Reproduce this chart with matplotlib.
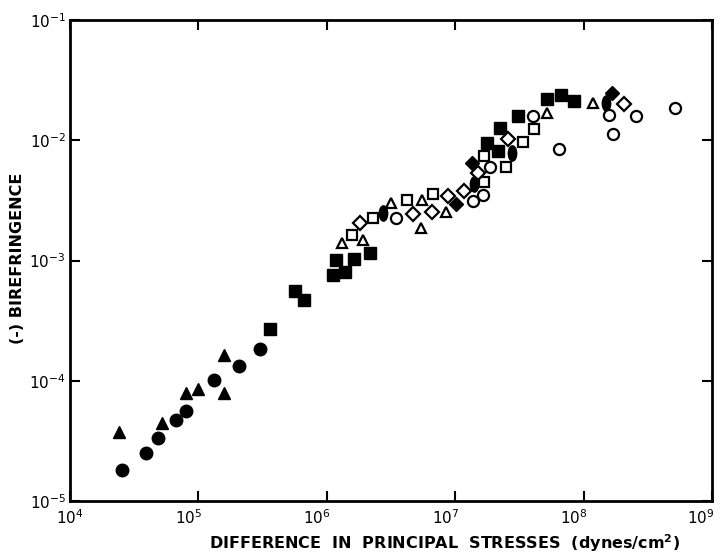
import numpy as np
import matplotlib.pyplot as plt
from matplotlib.path import Path
from matplotlib.transforms import Affine2D, ScaledTranslation

# Data (x: dynes/cm^2, y: -birefringence)
filled_circle_x = [2.55e4, 3.89e4, 4.82e4, 6.65e4, 8.05e4, 1.32e5, 2.07e5, 3.0e5]
filled_circle_y = [1.81e-5, 2.49e-5, 3.32e-5, 4.72e-5, 5.64e-5, 1.01e-4, 1.33e-4, 1.84e-4]

filled_tri_x = [2.42e4, 5.24e4, 7.96e4, 9.93e4, 1.58e5, 1.58e5]
filled_tri_y = [3.77e-5, 4.43e-5, 7.87e-5, 8.49e-5, 7.96e-5, 1.64e-4]

filled_sq_x = [3.61e5, 5.65e5, 6.64e5, 1.12e6, 1.18e6, 1.38e6, 1.62e6, 2.18e6,
               1.76e7, 2.14e7, 2.23e7, 3.10e7, 5.16e7, 6.67e7, 8.41e7]
filled_sq_y = [2.69e-4, 5.57e-4, 4.67e-4, 7.57e-4, 1.01e-3, 8.07e-4, 1.02e-3, 1.15e-3,
               9.44e-3, 8.15e-3, 1.27e-2, 1.59e-2, 2.19e-2, 2.38e-2, 2.13e-2]

open_sq_x = [1.56e6, 2.30e6, 4.24e6, 6.74e6, 1.69e7, 1.69e7, 2.47e7, 3.39e7, 4.11e7]
open_sq_y = [1.63e-3, 2.24e-3, 3.18e-3, 3.57e-3, 4.52e-3, 7.40e-3, 5.96e-3, 9.66e-3, 1.23e-2]

open_tri_x = [1.31e6, 1.91e6, 3.15e6, 5.48e6, 5.38e6, 8.44e6, 5.21e7, 1.18e8]
open_tri_y = [1.41e-3, 1.47e-3, 3.03e-3, 3.18e-3, 1.85e-3, 2.52e-3, 1.68e-2, 2.05e-2]

open_dia_x = [1.82e6, 4.72e6, 6.56e6, 8.75e6, 1.17e7, 1.51e7, 2.59e7, 2.05e8]
open_dia_y = [2.04e-3, 2.42e-3, 2.55e-3, 3.44e-3, 3.78e-3, 5.37e-3, 1.02e-2, 2.00e-2]

filled_dia_x = [1.02e7, 1.36e7, 1.66e8]
filled_dia_y = [2.96e-3, 6.43e-3, 2.45e-2]

ellipse_x = [2.72e6, 1.41e7, 2.75e7, 1.50e8]
ellipse_y = [2.50e-3, 4.31e-3, 7.87e-3, 2.05e-2]

open_circle_x = [3.44e6, 1.38e7, 1.64e7, 1.87e7, 4.02e7, 6.43e7, 1.58e8, 1.70e8, 2.54e8, 5.15e8]
open_circle_y = [2.24e-3, 3.14e-3, 3.52e-3, 5.96e-3, 1.59e-2, 8.41e-3, 1.62e-2, 1.13e-2, 1.59e-2, 1.87e-2]

xticks = [1e4, 1e5, 1e6, 1e7, 1e8, 1e9]
yticks = [1e-5, 1e-4, 1e-3, 1e-2, 1e-1]

# narrow vertical ellipse marker
ellipse_marker = Path.unit_circle().transformed(Affine2D().scale(0.55, 1.0))

fig = plt.figure(figsize=(7.21, 5.58), dpi=100)
ax = fig.add_axes([70 / 721, 1 - 501 / 558, 642 / 721, 481 / 558])
ax.set_xscale('log')
ax.set_yscale('log')
ax.set_xlim(1e4, 1e9)
ax.set_ylim(1e-5, 1e-1)

k = dict(linestyle='none', color='black')
ax.plot(filled_circle_x, filled_circle_y, marker='o', markersize=9, **k)
ax.plot(filled_tri_x, filled_tri_y, marker='^', markersize=8, **k)
ax.plot(filled_sq_x, filled_sq_y, marker='s', markersize=8, **k)
ax.plot(open_sq_x, open_sq_y, marker='s', markersize=7, markerfacecolor='white',
        markeredgewidth=1.6, **k)
ax.plot(open_tri_x, open_tri_y, marker='^', markersize=7, markerfacecolor='white',
        markeredgewidth=1.6, **k)
ax.plot(open_dia_x, open_dia_y, marker='D', markersize=7, markerfacecolor='white',
        markeredgewidth=1.6, **k)
ax.plot(filled_dia_x, filled_dia_y, marker='D', markersize=7.5, **k)
ax.plot(ellipse_x, ellipse_y, marker=ellipse_marker, markersize=11, **k)
ax.plot(open_circle_x, open_circle_y, marker='o', markersize=8, markerfacecolor='white',
        markeredgewidth=1.6, **k)

for s in ax.spines.values():
    s.set_linewidth(2)
ax.set_xticks(xticks)
ax.set_yticks(yticks)
ax.minorticks_off()
ax.tick_params(which='major', direction='in', length=7, width=1.5,
               top=True, right=True, labelsize=11)
ax.tick_params(axis='x', pad=5)
ax.tick_params(axis='y', pad=3)

# x tick labels sit a little left of their ticks; the last one ends at the spine
xlabels = ax.get_xticklabels()
for i, lab in enumerate(xlabels):
    if i == len(xlabels) - 1:
        lab.set_horizontalalignment('right')
        lab.set_transform(lab.get_transform() + ScaledTranslation(2 / 72, 0, fig.dpi_scale_trans))
    elif i > 0:
        lab.set_transform(lab.get_transform() + ScaledTranslation(-7 / 72, 0, fig.dpi_scale_trans))

ax.set_xlabel('DIFFERENCE  IN  PRINCIPAL  STRESSES  (dynes/cm$^{\\mathbf{2}}$)',
              fontsize=11.5, fontweight='bold')
ax.xaxis.set_label_coords(445 / 721, 1 - 532 / 558, transform=fig.transFigure)
ax.set_ylabel('(-) BIREFRINGENCE', fontsize=11.5, fontweight='bold')
ax.yaxis.set_label_coords(25 / 721, 1 - 258 / 558, transform=fig.transFigure)

fig.savefig('out.png', dpi=100)
